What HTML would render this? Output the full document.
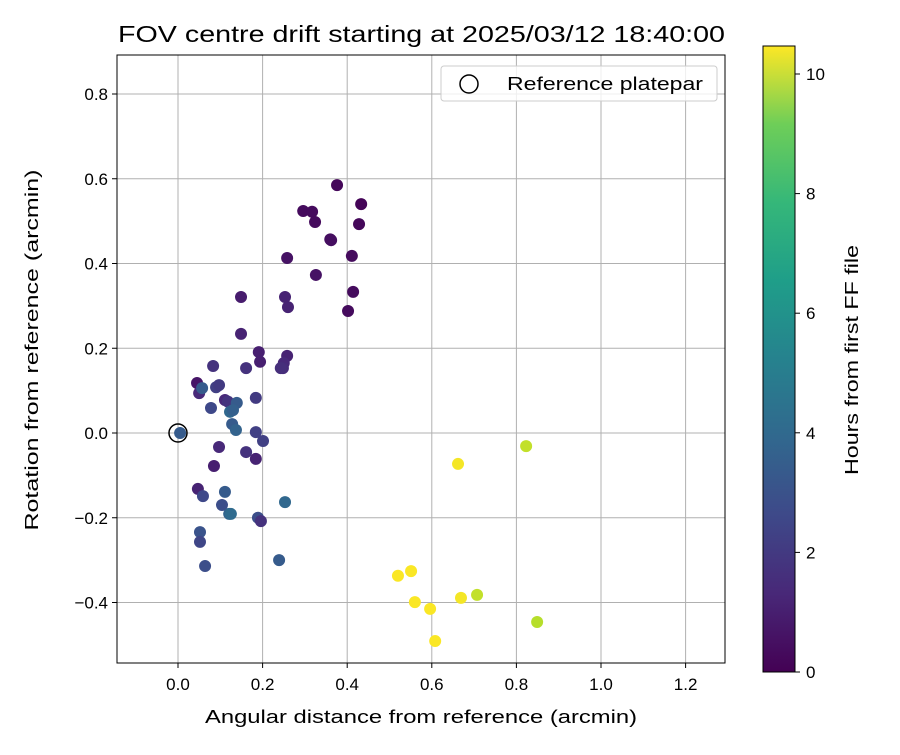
<!DOCTYPE html>
<html><head><meta charset="utf-8"><style>
body{margin:0;background:#fff;}
svg text{font-family:"Liberation Sans","DejaVu Sans",sans-serif;fill:#000;}
</style></head><body>
<svg id="chart" width="900" height="750" xmlns="http://www.w3.org/2000/svg">
<defs>
<linearGradient id="vir" x1="0" y1="1" x2="0" y2="0">
<stop offset="0" stop-color="#440154"/><stop offset="0.125" stop-color="#482878"/><stop offset="0.25" stop-color="#3e4989"/><stop offset="0.375" stop-color="#31688e"/><stop offset="0.5" stop-color="#26828e"/><stop offset="0.625" stop-color="#1f9e89"/><stop offset="0.75" stop-color="#35b779"/><stop offset="0.875" stop-color="#6ece58"/><stop offset="1" stop-color="#fde725"/>
</linearGradient>
</defs>
<rect x="0" y="0" width="900" height="750" fill="#fff"/>
<text x="118" y="42" font-size="23" textLength="607" lengthAdjust="spacingAndGlyphs">FOV centre drift starting at 2025/03/12 18:40:00</text>
<g id="grid"></g>
<g id="pts"></g>
<rect x="117" y="55" width="608" height="608" fill="none" stroke="#000" stroke-width="1"/>
<g id="ticks"></g>
<text x="205" y="723" font-size="18" textLength="432" lengthAdjust="spacingAndGlyphs">Angular distance from reference (arcmin)</text>
<text x="38" y="350" font-size="18" text-anchor="middle" textLength="361" lengthAdjust="spacingAndGlyphs" transform="rotate(-90 38 350)">Rotation from reference (arcmin)</text>
<g>
<rect x="441" y="66" width="276" height="35" fill="#fff" fill-opacity="0.8" stroke="#ccc" rx="3"/>
<circle cx="469" cy="84" r="9" fill="none" stroke="#000" stroke-width="1.5"/>
<text x="507" y="90" font-size="18" textLength="196" lengthAdjust="spacingAndGlyphs">Reference platepar</text>
</g>
<rect x="763" y="46" width="32" height="626" fill="url(#vir)" stroke="#000"/>
<g id="cbticks"></g>
<text x="858" y="360" font-size="18" text-anchor="middle" textLength="230" lengthAdjust="spacingAndGlyphs" transform="rotate(-90 858 360)">Hours from first FF file</text>
</svg>
<script>
const xTicks=[0.0,0.2,0.4,0.6,0.8,1.0,1.2];
const yTicks=[-0.4,-0.2,0.0,0.2,0.4,0.6,0.8];
const cTicks=[0,2,4,6,8,10];
const xs=[0.376,0.433,0.296,0.317,0.324,0.36,0.362,0.428,0.258,0.411,0.326,0.414,0.402,0.149,0.253,0.26,0.149,0.191,0.194,0.258,0.25,0.248,0.243,0.161,0.045,0.05,0.057,0.083,0.09,0.097,0.184,0.111,0.118,0.078,0.139,0.123,0.13,0.128,0.137,0.005,0.184,0.097,0.201,0.161,0.184,0.085,0.047,0.059,0.111,0.253,0.104,0.121,0.125,0.189,0.196,0.052,0.052,0.064,0.239,0.662,0.823,0.52,0.551,0.56,0.596,0.608,0.669,0.707,0.849];
const ys=[0.585,0.54,0.524,0.522,0.498,0.457,0.455,0.493,0.413,0.418,0.373,0.333,0.288,0.321,0.321,0.297,0.234,0.191,0.168,0.182,0.165,0.153,0.153,0.153,0.118,0.094,0.106,0.158,0.108,0.113,0.083,0.078,0.074,0.059,0.071,0.05,0.054,0.021,0.007,0.0,0.002,-0.033,-0.019,-0.045,-0.061,-0.078,-0.132,-0.149,-0.139,-0.163,-0.17,-0.191,-0.191,-0.2,-0.208,-0.234,-0.257,-0.314,-0.3,-0.073,-0.031,-0.337,-0.326,-0.399,-0.415,-0.491,-0.389,-0.382,-0.446];
const hours=[0.2,0.1,0.3,0.3,0.3,0.4,0.4,0.2,0.5,0.3,0.5,0.3,0.3,0.8,1.0,1.0,1.0,0.9,0.9,1.0,1.2,1.3,1.4,1.5,0.6,1.2,3.0,1.5,2.0,1.8,1.8,1.2,1.6,2.3,3.0,3.5,3.2,3.0,3.3,3.0,2.0,1.2,2.0,1.5,1.0,0.9,1.0,2.3,3.0,3.5,2.5,3.3,3.6,2.5,1.5,2.7,2.2,2.5,3.0,10.3,9.5,10.4,10.4,10.4,10.4,10.4,10.3,9.5,9.3];
const X=v=>178+v*423, Y=v=>433-v*423.75, C=h=>672-h*59.8;
const NS='http://www.w3.org/2000/svg';
function mk(t,a,p){const e=document.createElementNS(NS,t);for(const k in a)e.setAttribute(k,a[k]);p.appendChild(e);return e;}
const vir=[[68,1,84],[72,40,120],[62,73,137],[49,104,142],[38,130,142],[31,158,137],[53,183,121],[110,206,88],[181,222,43],[253,231,37]];
function col(h){let t=Math.max(0,Math.min(1,h/10.45))*(vir.length-1);let i=Math.min(vir.length-2,Math.floor(t)),f=t-i;
return 'rgb('+vir[i].map((c,k)=>Math.round(c+(vir[i+1][k]-c)*f)).join(',')+')';}
const g=document.getElementById('grid'),tk=document.getElementById('ticks'),pts=document.getElementById('pts'),cb=document.getElementById('cbticks');
xTicks.forEach(v=>{const x=X(v);
let l=mk('line',{x1:x,x2:x,y1:55,y2:663,stroke:'#b0b0b0','stroke-width':1},g);


mk('line',{x1:x,x2:x,y1:663,y2:668,stroke:'#000'},tk);
let t=mk('text',{x:x,y:690,'font-size':17,'text-anchor':'middle'},tk);t.textContent=v.toFixed(1);

});
yTicks.forEach(v=>{const y=Y(v);
let l=mk('line',{x1:117,x2:725,y1:y,y2:y,stroke:'#b0b0b0','stroke-width':1},g);


mk('line',{x1:112,x2:117,y1:y,y2:y,stroke:'#000'},tk);
let t=mk('text',{x:108,y:y+6,'font-size':17,'text-anchor':'end'},tk);t.textContent=v.toFixed(1).replace('-','\u2212');

});
xs.forEach((x,i)=>{let c=mk('circle',{cx:X(x),cy:Y(ys[i]),r:6,fill:col(hours[i])},pts);

});
let ref=mk('circle',{cx:X(0),cy:Y(0),r:9,fill:'none',stroke:'#000','stroke-width':1.5},pts);


cTicks.forEach(v=>{const y=C(v);mk('line',{x1:795,x2:800,y1:y,y2:y,stroke:'#000'},cb);
let t=mk('text',{x:806,y:y+6,'font-size':17},cb);t.textContent=v;

});
</script>
</body></html>
